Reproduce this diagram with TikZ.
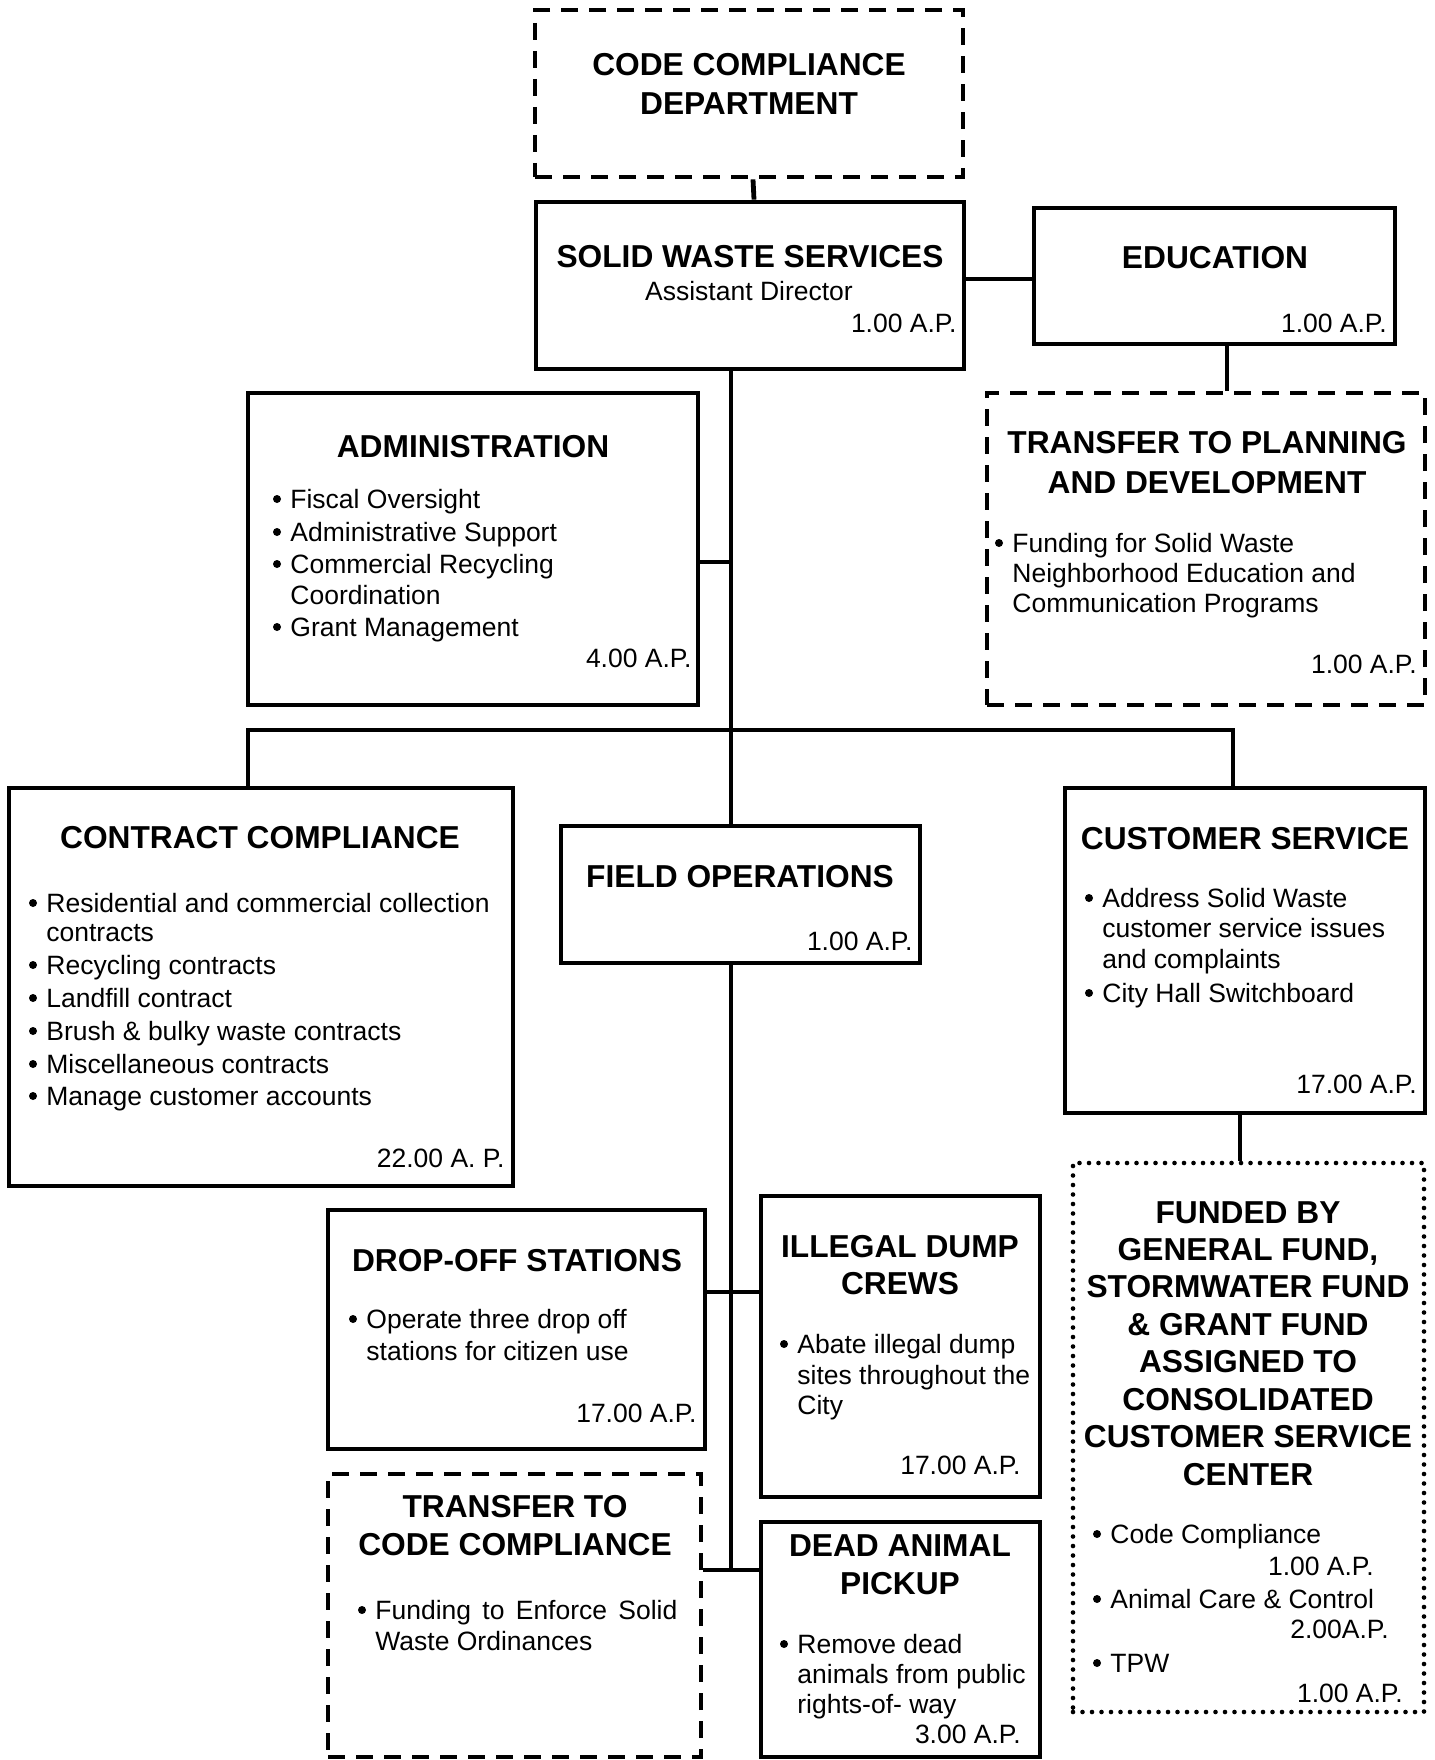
\documentclass[tikz,border=0pt]{standalone}
\usepackage{fontspec}
\setmainfont{Liberation Sans}
\usetikzlibrary{fit}

% label helpers: every text line is its own named node, placed on its baseline
\newcounter{lbl}
\newcommand\HeadAt[3]{\stepcounter{lbl}\node[head,anchor=base] (lbl\arabic{lbl}) at (#1,#2) {#3};}
\newcommand\LineAt[3]{\stepcounter{lbl}\node[body,anchor=base west] (lbl\arabic{lbl}) at (#1,#2) {#3};}
\newcommand\RightAt[3]{\stepcounter{lbl}\node[body,anchor=base east] (lbl\arabic{lbl}) at (#1,#2) {#3};}
\newcommand\BulletAt[3]{\stepcounter{lbl}\node[dot] (bul\arabic{lbl}) at (#1,{#2-9}) {};%
  \node[body,anchor=base west] (lbl\arabic{lbl}) at ({#1+13},#2) {#3};}

\begin{document}
\begin{tikzpicture}[x=0.5pt,y=-0.5pt,
  box/.style={draw,line width=2.4pt,rectangle,inner sep=0pt},
  dashbox/.style={box,dash pattern=on 8.5pt off 5.5pt},
  dotbox/.style={box,line width=2.3pt,line cap=round,dash pattern=on 0pt off 4.75pt},
  link/.style={line width=2.4pt},
  dot/.style={circle,fill,inner sep=0pt,minimum size=4pt},
  head/.style={font=\fontsize{15.85pt}{18.7pt}\selectfont\bfseries,inner sep=0pt},
  body/.style={font=\fontsize{13.25pt}{15.25pt}\selectfont,inner sep=0pt},
]
\fill[white] (0,0) rectangle (1434,1760);
\useasboundingbox (0,0) rectangle (1434,1760);

% ---------- boxes ----------
\node[dashbox,fit={(535,10) (963,177)}]    (ccd)   {};
\node[box,fit={(536,202) (964,369)}]       (sws)   {};
\node[box,fit={(1034,208) (1395,344)}]     (edu)   {};
\node[dashbox,fit={(987,393) (1425,705)}]  (tpd)   {};
\node[box,fit={(248,393) (698,705)}]       (admin) {};
\node[box,fit={(9,788) (513,1186)}]        (cc)    {};
\node[box,fit={(561,826) (920,963)}]       (fo)    {};
\node[box,fit={(1065,788) (1425,1113)}]    (cs)    {};
\node[dotbox,fit={(1073,1163) (1424,1712)}] (fund) {};
\node[box,fit={(328,1210) (705,1449)}]     (drop)  {};
\node[box,fit={(761,1196) (1040,1497)}]    (ill)   {};
\node[dashbox,fit={(328,1474) (701,1757)}] (tcc)   {};
\node[box,fit={(761,1522) (1040,1757)}]    (dead)  {};

% ---------- connector guides ----------
\coordinate (tr)    at (731,0);
\coordinate (eduY)  at (0,279);
\coordinate (eduX)  at (1227,0);
\coordinate (admY)  at (0,562);
\coordinate (busY)  at (0,730);
\coordinate (ccX)   at (248,0);
\coordinate (csX)   at (1233,0);
\coordinate (fundX) at (1240,0);
\coordinate (dropY) at (0,1292);
\coordinate (tcY)   at (0,1570);

% ---------- connectors ----------
\draw[link] ([xshift=2pt]ccd.south) -- ([xshift=2pt]sws.north);
\draw[link] (sws.east |- eduY) -- (edu.west |- eduY);
\draw[link] (edu.south -| eduX) -- (tpd.north -| eduX);
\draw[link] (sws.south -| tr) -- (fo.north -| tr);
\draw[link] (admin.east |- admY) -- (tr |- admY);
\draw[link] (cc.north -| ccX) -- (ccX |- busY) -- (csX |- busY) -- (cs.north -| csX);
\draw[link] (fo.south -| tr) -- (tr |- tcY);
\draw[link] (drop.east |- dropY) -- (ill.west |- dropY);
\draw[link] (tcc.east |- tcY) -- (dead.west |- tcY);
\draw[link] (cs.south -| fundX) -- (fund.north -| fundX);

% ---------- Code Compliance Department ----------
\HeadAt{749}{76}{CODE COMPLIANCE}
\HeadAt{749}{115}{DEPARTMENT}

% ---------- Solid Waste Services ----------
\HeadAt{750}{268}{SOLID WASTE SERVICES}
\node[body,anchor=base] (swsSub) at (749,300) {Assistant Director};
\RightAt{957}{332}{1.00 A.P.}

% ---------- Education ----------
\HeadAt{1215}{269}{EDUCATION}
\RightAt{1387}{332}{1.00 A.P.}

% ---------- Transfer to Planning and Development ----------
\HeadAt{1207}{453}{TRANSFER TO PLANNING}
\HeadAt{1207}{493}{AND DEVELOPMENT}
\BulletAt{999}{552}{Funding for Solid Waste}
\LineAt{1012}{582}{Neighborhood Education and}
\LineAt{1012}{612}{Communication Programs}
\RightAt{1417}{673}{1.00 A.P.}

% ---------- Administration ----------
\HeadAt{473}{457}{ADMINISTRATION}
\BulletAt{277}{508}{Fiscal Oversight}
\BulletAt{277}{541}{Administrative Support}
\BulletAt{277}{573}{Commercial Recycling}
\LineAt{290}{604}{Coordination}
\BulletAt{277}{636}{Grant Management}
\RightAt{692}{667}{4.00 A.P.}

% ---------- Contract Compliance ----------
\HeadAt{260}{848}{CONTRACT COMPLIANCE}
\BulletAt{33}{912}{Residential and commercial collection}
\LineAt{46}{941}{contracts}
\BulletAt{33}{974}{Recycling contracts}
\BulletAt{33}{1007}{Landfill contract}
\BulletAt{33}{1040}{Brush \& bulky waste contracts}
\BulletAt{33}{1073}{Miscellaneous contracts}
\BulletAt{33}{1105}{Manage customer accounts}
\RightAt{505}{1167}{22.00 A. P.}

% ---------- Field Operations ----------
\HeadAt{740}{887}{FIELD OPERATIONS}
\RightAt{913}{950}{1.00 A.P.}

% ---------- Customer Service ----------
\HeadAt{1245}{849}{CUSTOMER SERVICE}
\BulletAt{1089}{907}{Address Solid Waste}
\LineAt{1102}{937}{customer service issues}
\LineAt{1102}{968}{and complaints}
\BulletAt{1089}{1002}{City Hall Switchboard}
\RightAt{1417}{1093}{17.00 A.P.}

% ---------- Funding note ----------
\HeadAt{1248}{1223}{FUNDED BY}
\HeadAt{1248}{1260}{GENERAL FUND,}
\HeadAt{1248}{1297}{STORMWATER FUND}
\HeadAt{1248}{1335}{\& GRANT FUND}
\HeadAt{1248}{1372}{ASSIGNED TO}
\HeadAt{1248}{1410}{CONSOLIDATED}
\HeadAt{1248}{1447}{CUSTOMER SERVICE}
\HeadAt{1248}{1485}{CENTER}
\BulletAt{1097}{1543}{Code Compliance}
\RightAt{1374}{1575}{1.00 A.P.}
\BulletAt{1097}{1608}{Animal Care \& Control}
\RightAt{1389}{1638}{2.00A.P.}
\BulletAt{1097}{1672}{TPW}
\RightAt{1403}{1702}{1.00 A.P.}

% ---------- Drop-off Stations ----------
\HeadAt{517}{1271}{DROP-OFF STATIONS}
\BulletAt{353}{1328}{Operate three drop off}
\LineAt{366}{1360}{stations for citizen use}
\RightAt{697}{1422}{17.00 A.P.}

% ---------- Illegal Dump Crews ----------
\HeadAt{900}{1257}{ILLEGAL DUMP}
\HeadAt{900}{1294}{CREWS}
\BulletAt{784}{1353}{Abate illegal dump}
\LineAt{797}{1384}{sites throughout the}
\LineAt{797}{1414}{City}
\RightAt{1021}{1474}{17.00 A.P.}

% ---------- Transfer to Code Compliance ----------
\HeadAt{515}{1517}{TRANSFER TO}
\HeadAt{515}{1555}{CODE COMPLIANCE}
\BulletAt{362}{1619}{\makebox[151pt][s]{Funding to Enforce Solid}}
\LineAt{375}{1650}{Waste Ordinances}

% ---------- Dead Animal Pickup ----------
\HeadAt{900}{1556}{DEAD ANIMAL}
\HeadAt{900}{1594}{PICKUP}
\BulletAt{784}{1653}{Remove dead}
\LineAt{797}{1683}{animals from public}
\LineAt{797}{1713}{rights-of- way}
\RightAt{1021}{1743}{3.00 A.P.}
\end{tikzpicture}
\end{document}
